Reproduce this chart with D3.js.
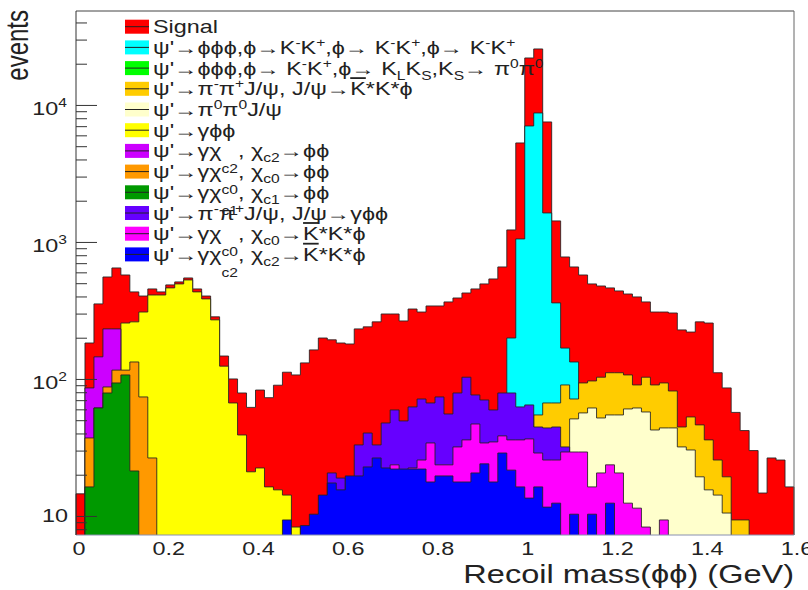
<!DOCTYPE html>
<html>
<head>
<meta charset="utf-8">
<script src="https://cdn.jsdelivr.net/npm/d3@7"></script>
<style>
  body { margin: 0; background: #fff; }
  text { font-family: "Liberation Sans", Arial, sans-serif; fill: #222; }
</style>
</head>
<body>
<div id="chart"></div>
<script>
// events per 0.02 GeV bin, stacked (each array is the top of its layer)
const binWidth = 0.02;

const signal = [14.5, 183, 353, 555, 646, 574, 432, 403, 454, 432,
  486, 511, 546, 454, 403, 284, 147, 100, 79, 62,
  83, 73, 90, 112, 107, 131, 163, 199, 193, 183,
  180, 232, 240, 261, 298, 298, 265, 324, 308, 341,
  341, 365, 390, 424, 454, 494, 537, 657, 1224, 5280,
  22030, 25630, 7515, 1424, 777, 657, 574, 494, 477, 462,
  439, 417, 397, 365, 308, 308, 303, 228, 220, 261,
  256, 111, 86, 57, 42, 30, 14.7, 26.5, 25.6, 16.3];
const phiKK = [199, 1052, 7025, 8740, 1628, 359, 168, 133];
const phiKLKS = [];
const pipiJpsiKKphi = [54.6, 66.8, 66.8, 90.4, 71.4, 93.5, 96.7, 103, 111, 111, 107, 90.4,
  103, 90.4, 93.5, 81.7, 44.6, 52.8, 46.2, 35.9, 25.6, 19.3, 9.35, 9.35];
const pi0pi0Jpsi = [51.1, 56.5, 61.4, 51.9, 54.6, 54.6, 60.4, 61.4, 57.4, 42.4, 43.9, 43.9,
  31.9, 30.3, 19.3, 15.5, 14.2, 10.5];
const gammaPhiPhi = [256, 261, 308, 410, 410, 462, 494, 528, 432, 384,
  270, 124, 66.8, 39.0, 21.0, 22.4, 16.3, 15.5, 14.2, 8.3];
const chic2PhiPhi = [86, 145, 232, 232];
const chic0PhiPhi = [37.1, 61.4, 87.4, 116, 116, 133, 73.9, 26.5];
const chic1PhiPhi = [16.3, 61.4, 79, 93.5, 107, 21.3];
const pipiJpsiGammaPhiPhi = [20.6, 18.9, 0, 33.0, 40.3, 33.0, 47.7, 59.4, 49.4, 62.5, 71.4, 66.8,
  73.9, 55.5, 79, 103, 76.4, 70.2, 59.4, 79, 79, 62.5, 64.6, 44.6, 43.9, 44.6, 31.9];
const chic0KKphi = [23.6, 0, 22.4, 25.6, 34.1, 23.6, 23.6, 31.9, 35.9, 46.9, 34.1, 34.7,
  38.4, 35.9, 35.9, 36.5, 28.8, 25.6, 25.6, 29.3, 29.3, 29.3, 16.3, 20.6, 23.6, 20.6,
  12.4, 11.4, 8.3, 0, 9.35];
const chic2KKphi = [9.35, 0, 8.5, 10.3, 14.2, 17.4, 15.5, 19.6, 19.6, 22.8, 26.5, 22.4,
  22.0, 22.0, 22.0, 22.0, 17.7, 19.6, 19.6, 17.7, 17.7, 20.6, 24.0, 17.7, 28.8, 21.6,
  16.3, 13.5, 16.3, 11.6, 12.4, 0, 10.3, 0, 10.3, 0, 12.4];

// drawn in this order: top of the stack first
const seriesValues = [signal, phiKK, phiKLKS, pipiJpsiKKphi, pi0pi0Jpsi, gammaPhiPhi,
  chic2PhiPhi, chic0PhiPhi, chic1PhiPhi, pipiJpsiGammaPhiPhi, chic0KKphi, chic2KKphi];
const seriesStart = [0, 0.96, 0, 1.02, 1.10, 0.10, 0.02, 0.02, 0.02, 0.56, 0.70, 0.46];
const seriesColors = ["#ff0000", "#00ffff", "#00ff00", "#ffcc00", "#ffffcc", "#ffff00",
  "#cc00ff", "#ff9900", "#009900", "#6600ff", "#ff00ff", "#0000ff"];

// legend text pieces: [text, kind]
const legendLabels = [
  [["Signal", ""]],
  [["ψ'→ϕϕϕ,ϕ→K", ""], ["-", "sup"], ["K", ""], ["+", "sup"], [",ϕ→ K", ""], ["-", "sup"], ["K", ""], ["+", "sup"], [",ϕ→ K", ""], ["-", "sup"], ["K", ""], ["+", "sup"]],
  [["ψ'→ϕϕϕ,ϕ→ K", ""], ["-", "sup"], ["K", ""], ["+", "sup"], [",ϕ→ K", ""], ["L", "sub"], ["K", ""], ["S", "sub"], [",K", ""], ["S", "sub"], ["→ π", ""], ["0", "sup"], ["π", ""], ["0", "sup"]],
  [["ψ'→π", ""], ["-", "sup"], ["π", ""], ["+", "sup"], ["J/ψ, J/ψ→", ""], ["K", "bar"], ["*K*ϕ", ""]],
  [["ψ'→π", ""], ["0", "sup"], ["π", ""], ["0", "sup"], ["J/ψ", ""]],
  [["ψ'→γϕϕ", ""]],
  [["ψ'→γχ", ""], ["c2", "drop"], [", χ", ""], ["c2", "sub"], ["→ϕϕ", ""]],
  [["ψ'→γχ", ""], ["c0", "drop"], [", χ", ""], ["c0", "sub"], ["→ϕϕ", ""]],
  [["ψ'→γχ", ""], ["c1", "drop"], [", χ", ""], ["c1", "sub"], ["→ϕϕ", ""]],
  [["ψ'→π", ""], ["-", "sup"], ["π", ""], ["+", "sup"], ["J/ψ, J/ψ→γϕϕ", ""]],
  [["ψ'→γχ", ""], ["c0", "drop"], [", χ", ""], ["c0", "sub"], ["→", ""], ["K", "bar"], ["*K*ϕ", ""]],
  [["ψ'→γχ", ""], ["c2", "drop"], [", χ", ""], ["c2", "sub"], ["→", ""], ["K", "bar"], ["*K*ϕ", ""]]
];

const xTickValues = [0, 0.2, 0.4, 0.6, 0.8, 1.0, 1.2, 1.4, 1.6];
const xTickLabels = ["0", "0.2", "0.4", "0.6", "0.8", "1", "1.2", "1.4", "1.6"];
const yTickValues = [10, 100, 1000, 10000];
const yTickExponents = ["", "2", "3", "4"];

document.addEventListener("DOMContentLoaded", () => {

    const margin = { top: 11, right: 14, bottom: 55, left: 76 };
    const width = 808 - margin.left - margin.right;
    const height = 590 - margin.top - margin.bottom;
    const stretch = "scale(1.3,1)";

    const svg = d3.select("#chart")
        .append("svg")
        .attr("width", 808)
        .attr("height", 590);

    const g = svg.append("g")
        .attr("transform", `translate(${margin.left},${margin.top})`);

    const x = d3.scaleLinear().domain([0, 1.6]).range([0, width]);
    const y = d3.scaleLog().domain([7.26, 48500]).range([height, 0]);

    function stepPath(start, values) {
        const first = Math.round(start / binWidth);
        let d = "";
        let open = false;
        values.forEach((v, i) => {
            const x0 = x((first + i) * binWidth);
            const x1 = x((first + i + 1) * binWidth);
            if (v > 0) {
                if (!open) { d += `M${x0},${height}`; open = true; }
                d += `V${y(v)}H${x1}`;
            } else if (open) {
                d += `V${height}`;
                open = false;
            }
        });
        if (open) d += `V${height}`;
        return d;
    }

    g.selectAll(".hist")
        .data(seriesValues)
        .enter()
        .append("path")
        .attr("class", "hist")
        .attr("d", (vals, i) => stepPath(seriesStart[i], vals))
        .attr("fill", (vals, i) => seriesColors[i])
        .attr("stroke", "#222")
        .attr("stroke-opacity", 0.85)
        .attr("stroke-width", 1);

    // y axis ticks drawn inside the frame
    const minorTicks = y.ticks().filter(d => !yTickValues.includes(d));
    g.append("g")
        .call(d3.axisLeft(y).tickValues(minorTicks).tickSize(-11).tickFormat(""))
        .call(a => a.select(".domain").remove());
    g.append("g")
        .call(d3.axisLeft(y).tickValues(yTickValues).tickSize(-21).tickFormat(""))
        .call(a => a.select(".domain").remove());
    g.selectAll(".tick line").attr("stroke", "#333");

    const yLabels = g.selectAll(".ylab")
        .data(yTickValues)
        .enter()
        .append("text")
        .attr("class", "ylab")
        .attr("text-anchor", "end")
        .style("font-size", "18px")
        .attr("transform", (d, i) => `translate(${yTickExponents[i] ? -9 : -8},${y(d) + (yTickExponents[i] ? 10 : 6.5)}) ${stretch}`);
    yLabels.append("tspan").text("10");
    yLabels.append("tspan")
        .attr("dy", -8)
        .style("font-size", "12px")
        .text((d, i) => yTickExponents[i]);

    // x axis labels
    g.append("g")
        .attr("transform", `translate(0,${height})`)
        .call(d3.axisBottom(x).tickValues(xTickValues).tickSize(0).tickFormat((d, i) => xTickLabels[i]))
        .call(a => a.select(".domain").remove())
        .selectAll("text")
        .attr("y", 20)
        .attr("dy", null)
        .attr("x", 2)
        .attr("fill", "#222")
        .style("font-size", "18px")
        .style("font-family", "'Liberation Sans', Arial, sans-serif")
        .attr("transform", stretch);

    // frame
    g.append("line").attr("x1", 0).attr("x2", width).attr("y1", 0).attr("y2", 0).attr("stroke", "#444");
    g.append("line").attr("x1", width).attr("x2", width).attr("y1", 0).attr("y2", height).attr("stroke", "#666");
    g.append("line").attr("x1", 0).attr("x2", width).attr("y1", height).attr("y2", height).attr("stroke", "#8890b0");
    g.append("line").attr("x1", 0).attr("x2", 0).attr("y1", 0).attr("y2", height).attr("stroke", "#333");

    // axis titles
    svg.append("text")
        .attr("text-anchor", "end")
        .style("font-size", "25px")
        .attr("transform", `translate(794,583) ${stretch}`)
        .text("Recoil mass(ϕϕ) (GeV)");

    svg.append("text")
        .attr("text-anchor", "end")
        .style("font-size", "24px")
        .attr("transform", `translate(28,10) ${stretch} rotate(-90)`)
        .text("events");

    // legend
    const shifts = { "": 0, sup: -7, sub: 5, drop: 16, bar: 0 };
    const legend = svg.append("g");
    legendLabels.forEach((parts, i) => {
        const cy = 26.7 + 20.7 * i;
        legend.append("rect")
            .attr("x", 125).attr("y", cy - 7)
            .attr("width", 24).attr("height", 14)
            .attr("fill", seriesColors[i]);
        legend.append("line")
            .attr("x1", 125).attr("x2", 149)
            .attr("y1", cy).attr("y2", cy)
            .attr("stroke", "#222");
        const t = legend.append("text")
            .style("font-size", "18px")
            .attr("transform", `translate(153,${cy + 6.5}) ${stretch}`);
        let current = 0;
        parts.forEach(([txt, kind]) => {
            const s = shifts[kind];
            const span = t.append("tspan")
                .attr("dy", s - current)
                .text(txt);
            current = s;
            if (kind !== "" && kind !== "bar") span.style("font-size", "12px");
            if (kind === "bar") span.style("text-decoration", "overline");
        });
    });
});
</script>
</body>
</html>
